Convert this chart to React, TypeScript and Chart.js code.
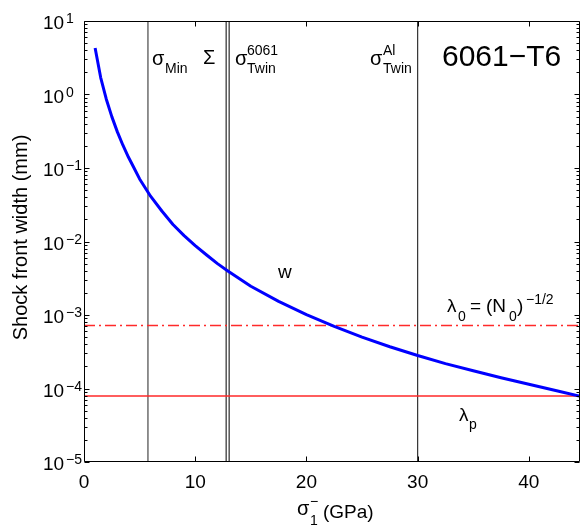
import { useEffect, useRef } from "react";
import { Chart, registerables } from "chart.js";

Chart.register(...registerables);

// Blue curve: shock front width w (mm) vs sigma_1^- (GPa)
const stressGPa = [1, 1.5, 2, 2.5, 3, 3.5, 4, 4.5, 5, 6, 7, 8, 9, 10, 11, 12, 13, 15, 17.5, 20, 22.5, 25, 27.5, 30, 32.5, 35, 37.5, 40, 42.5, 45];
const widthMm = [4.3, 1.7, 0.87, 0.5, 0.31, 0.204, 0.14, 0.1, 0.071, 0.041, 0.026, 0.017, 0.012, 0.0088, 0.0066, 0.005, 0.0039, 0.00246, 0.00153, 0.00101, 0.0007, 0.0005, 0.00037, 0.000281, 0.000218, 0.000174, 0.00014, 0.000114, 0.000093, 0.000076];

// Vertical reference lines (GPa)
const sigmaMin = 5.75;
const sigmaSum = 12.78;
const sigma6061Twin = 13.05;
const sigmaAlTwin = 30;

// Horizontal reference lines (mm)
const lambda0 = 0.00072;
const lambdaP = 0.000079;

const xRange = [0, 44.6];
const yRange = [1e-5, 10];
const xTicks = [0, 10, 20, 30, 40];
const yExponents = [1, 0, -1, -2, -3, -4, -5];

const FONT = "'Liberation Sans', Arial, Helvetica, sans-serif";

type Part = { t: string; x: number; y: number; s: number };

function drawParts(ctx: CanvasRenderingContext2D, parts: Part[]) {
  ctx.save();
  ctx.fillStyle = "#000";
  ctx.textAlign = "left";
  ctx.textBaseline = "alphabetic";
  for (const p of parts) {
    ctx.font = `${p.s}px ${FONT}`;
    ctx.fillText(p.t, p.x, p.y);
  }
  ctx.restore();
}

const decor = {
  id: "decor",
  afterDatasetsDraw(chart: any) {
    const ctx: CanvasRenderingContext2D = chart.ctx;
    const a = chart.chartArea;
    const xs = chart.scales.x;
    const ys = chart.scales.y;
    const L = Math.round(a.left) + 0.5;
    const R = Math.round(a.right) - 0.5;
    const T = Math.round(a.top) + 0.5;
    const B = Math.round(a.bottom) - 0.5;
    ctx.save();
    ctx.strokeStyle = "#000";
    ctx.lineWidth = 1;
    ctx.beginPath();
    ctx.rect(L, T, R - L, B - T);
    for (const v of xTicks) {
      const px = Math.round(xs.getPixelForValue(v)) + 0.5;
      ctx.moveTo(px, B);
      ctx.lineTo(px, B - 5);
      ctx.moveTo(px, T);
      ctx.lineTo(px, T + 5);
    }
    for (const e of yExponents) {
      const py = Math.round(ys.getPixelForValue(Math.pow(10, e))) + 0.5;
      ctx.moveTo(L, py);
      ctx.lineTo(L + 5, py);
      ctx.moveTo(R, py);
      ctx.lineTo(R - 5, py);
      if (e < 1) {
        for (let m = 2; m <= 9; m++) {
          const my = Math.round(ys.getPixelForValue(m * Math.pow(10, e))) + 0.5;
          ctx.moveTo(L, my);
          ctx.lineTo(L + 3, my);
          ctx.moveTo(R, my);
          ctx.lineTo(R - 3, my);
        }
      }
    }
    ctx.stroke();

    ctx.fillStyle = "#000";
    ctx.textBaseline = "alphabetic";
    ctx.font = `19px ${FONT}`;
    ctx.textAlign = "center";
    for (const v of xTicks) {
      ctx.fillText(String(v), xs.getPixelForValue(v), 488);
    }
    for (const e of yExponents) {
      const py = ys.getPixelForValue(Math.pow(10, e));
      ctx.textAlign = "left";
      ctx.font = `19px ${FONT}`;
      ctx.fillText("10", 43, py + 8);
      ctx.font = `14px ${FONT}`;
      ctx.fillText(e < 0 ? "\u2212" + String(-e) : String(e), 66, py + 2);
    }

    ctx.save();
    ctx.translate(27, (a.top + a.bottom) / 2 - 4);
    ctx.rotate(-Math.PI / 2);
    ctx.textAlign = "center";
    ctx.font = `20px ${FONT}`;
    ctx.fillText("Shock front width (mm)", 0, 0);
    ctx.restore();
    ctx.restore();

    drawParts(ctx, [
      { t: "\u03c3", x: 297, y: 515, s: 20 },
      { t: "\u2212", x: 310, y: 506, s: 14 },
      { t: "1", x: 310, y: 525, s: 14 },
      { t: "(GPa)", x: 323, y: 518, s: 19 },
    ]);

    drawParts(ctx, [
      { t: "\u03c3", x: 152, y: 65, s: 20 },
      { t: "Min", x: 165, y: 73, s: 14 },
      { t: "\u03a3", x: 203, y: 64, s: 20 },
      { t: "\u03c3", x: 235, y: 65, s: 20 },
      { t: "6061", x: 247, y: 55, s: 14 },
      { t: "Twin", x: 247, y: 73, s: 14 },
      { t: "\u03c3", x: 370, y: 65, s: 20 },
      { t: "Al", x: 383, y: 55, s: 14 },
      { t: "Twin", x: 383, y: 73, s: 14 },
      { t: "6061\u2212T6", x: 442, y: 66, s: 30 },
      { t: "w", x: 278, y: 278, s: 19 },
      { t: "\u03bb", x: 447, y: 312, s: 19 },
      { t: "0", x: 458, y: 321, s: 14 },
      { t: "=", x: 470, y: 312, s: 19 },
      { t: "(N", x: 486, y: 312, s: 19 },
      { t: "0", x: 509, y: 321, s: 14 },
      { t: ")", x: 517, y: 312, s: 19 },
      { t: "\u22121/2", x: 526, y: 304, s: 14 },
      { t: "\u03bb", x: 459, y: 421, s: 19 },
      { t: "p", x: 469, y: 429, s: 14 },
    ]);
  },
};

function vline(x: number, color: string, width: number) {
  return {
    data: [{ x, y: yRange[0] }, { x, y: yRange[1] }],
    borderColor: color,
    borderWidth: width,
    pointRadius: 0,
    fill: false,
  };
}

function hline(y: number, color: string, width: number, dash: number[]) {
  return {
    data: [{ x: xRange[0], y }, { x: xRange[1], y }],
    borderColor: color,
    borderWidth: width,
    borderDash: dash,
    pointRadius: 0,
    fill: false,
  };
}

export default function App() {
  const ref = useRef<HTMLCanvasElement>(null);
  useEffect(() => {
    const canvas = ref.current;
    if (!canvas) return;
    const chart = new Chart(canvas, {
      type: "line",
      data: {
        datasets: [
          {
            data: stressGPa.map((x, i) => ({ x, y: widthMm[i] })),
            borderColor: "#0000ff",
            borderWidth: 3,
            pointRadius: 0,
            tension: 0,
            borderJoinStyle: "round",
            fill: false,
          } as any,
          hline(lambda0, "#ff2a2a", 1.3, [11, 4, 2, 4]),
          hline(lambdaP, "rgba(255,40,40,0.75)", 2, []),
          vline(sigmaMin, "#555", 1.3),
          vline(sigmaSum, "#000", 1),
          vline(sigma6061Twin, "#000", 1),
          vline(sigmaAlTwin, "#333", 1.2),
        ],
      },
      options: {
        responsive: false,
        animation: false,
        layout: { padding: { left: 84, top: 21, right: 0, bottom: 67 } },
        scales: {
          x: { type: "linear", min: xRange[0], max: xRange[1], display: false },
          y: { type: "logarithmic", min: yRange[0], max: yRange[1], display: false },
        },
        plugins: { legend: { display: false }, tooltip: { enabled: false } },
        elements: { point: { radius: 0 } },
      },
      plugins: [decor],
    });
    return () => chart.destroy();
  }, []);
  return (
    <div style={{ position: "fixed", left: 0, top: 0, width: 580, height: 529, background: "#fff" }}>
      <canvas ref={ref} width={580} height={529} style={{ display: "block" }} />
    </div>
  );
}
